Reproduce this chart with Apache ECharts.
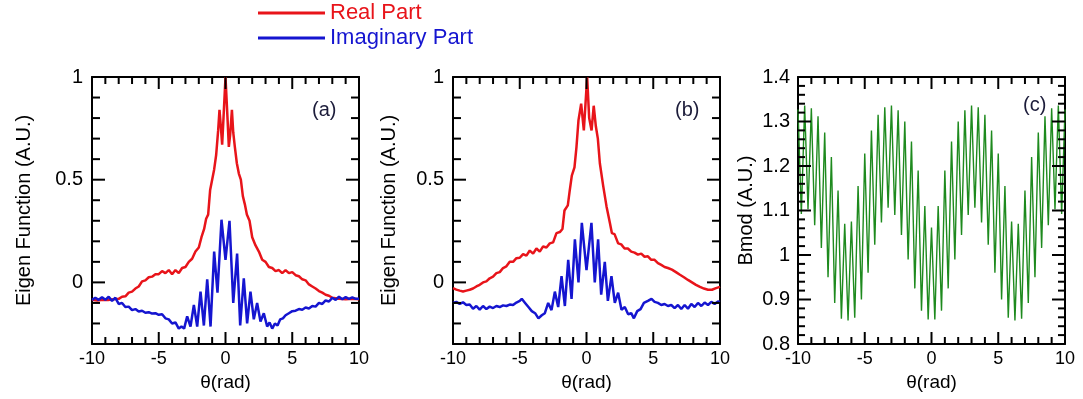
<!DOCTYPE html>
<html>
<head>
<meta charset="utf-8">
<script src="https://cdn.jsdelivr.net/npm/echarts@6.0.0/dist/echarts.min.js"></script>
<style>
html,body{margin:0;padding:0;background:#fff;}
#chart{width:1083px;height:399px;}
</style>
</head>
<body>
<div id="chart"></div>
<script>
// ---------- Data ----------
// Panel (a)
const thetaRealA = [-10,-9.6,-9.2,-8.8,-8.4,-8,-7.75,-7.5,-7.25,-7,-6.75,-6.5,-6.25,-6,-5.75,-5.5,-5.25,-5,-4.75,-4.5,-4.25,-4,-3.75,-3.5,-3.25,-3,-2.75,-2.5,-2.25,-2,-1.8,-1.6,-1.45,-1.3,-1.15,-1,-0.85,-0.7,-0.55,-0.45,-0.35,-0.25,-0.15,0,0.15,0.25,0.35,0.48,0.58,0.7,0.85,1,1.15,1.3,1.45,1.6,1.8,2,2.25,2.5,2.75,3,3.25,3.5,3.75,4,4.25,4.5,4.75,5,5.25,5.5,5.75,6,6.25,6.5,6.75,7,7.25,7.5,7.75,8,8.5,9,9.5,10];
const realA = [-0.085,-0.088,-0.085,-0.086,-0.082,-0.08,-0.07,-0.068,-0.05,-0.045,-0.03,-0.02,0.005,0.01,0.025,0.028,0.04,0.04,0.055,0.045,0.06,0.04,0.06,0.045,0.07,0.075,0.1,0.115,0.15,0.17,0.22,0.26,0.31,0.33,0.45,0.5,0.55,0.62,0.74,0.84,0.76,0.67,0.8,1.0,0.8,0.66,0.72,0.84,0.73,0.66,0.58,0.53,0.5,0.42,0.38,0.33,0.3,0.22,0.18,0.15,0.11,0.1,0.075,0.07,0.055,0.06,0.045,0.06,0.045,0.05,0.035,0.03,0.015,0.01,-0.01,-0.02,-0.03,-0.042,-0.05,-0.06,-0.065,-0.075,-0.08,-0.082,-0.08,-0.082];
const thetaImagA = [-10,-9.75,-9.5,-9.25,-9,-8.75,-8.5,-8.25,-8,-7.75,-7.5,-7.25,-7,-6.75,-6.5,-6.25,-6,-5.75,-5.5,-5.25,-5,-4.75,-4.5,-4.25,-4,-3.75,-3.5,-3.3,-3.1,-2.87,-2.62,-2.37,-2.12,-1.87,-1.62,-1.37,-1.12,-0.85,-0.6,-0.3,0,0.3,0.58,0.87,1.1,1.37,1.62,1.87,2.12,2.37,2.62,2.87,3.12,3.3,3.5,3.7,3.9,4.1,4.3,4.5,4.75,5,5.25,5.5,5.75,6,6.25,6.5,6.75,7,7.25,7.5,7.75,8,8.25,8.5,8.75,9,9.25,9.5,9.75,10];
const imagA = [-0.085,-0.075,-0.085,-0.072,-0.085,-0.07,-0.09,-0.075,-0.105,-0.1,-0.12,-0.118,-0.135,-0.13,-0.142,-0.138,-0.148,-0.145,-0.152,-0.15,-0.158,-0.155,-0.175,-0.18,-0.2,-0.195,-0.225,-0.215,-0.225,-0.165,-0.215,-0.11,-0.215,-0.045,-0.21,0.015,-0.215,0.15,-0.05,0.305,0.11,0.3,-0.1,0.14,-0.21,0.02,-0.2,-0.045,-0.18,-0.1,-0.19,-0.15,-0.215,-0.195,-0.225,-0.2,-0.21,-0.18,-0.175,-0.16,-0.15,-0.14,-0.138,-0.13,-0.133,-0.122,-0.127,-0.115,-0.118,-0.1,-0.105,-0.088,-0.093,-0.075,-0.085,-0.07,-0.082,-0.072,-0.08,-0.073,-0.08,-0.08];

// Panel (b)
const thetaRealB = [-10,-9.75,-9.5,-9.25,-9,-8.75,-8.5,-8.25,-8,-7.75,-7.5,-7.25,-7,-6.75,-6.5,-6.25,-6,-5.75,-5.5,-5.25,-5,-4.75,-4.5,-4.25,-4,-3.75,-3.5,-3.25,-3,-2.75,-2.5,-2.25,-2,-1.8,-1.65,-1.4,-1.25,-1.1,-0.9,-0.75,-0.6,-0.4,-0.2,0.05,0.2,0.38,0.54,0.7,0.85,1,1.25,1.5,1.75,1.9,2.1,2.37,2.6,2.85,3.1,3.35,3.6,3.85,4.1,4.35,4.6,4.85,5.1,5.35,5.6,5.85,6.1,6.4,6.7,7,7.3,7.6,7.9,8.2,8.5,8.8,9.1,9.4,9.7,10];
const realB = [-0.028,-0.035,-0.04,-0.044,-0.04,-0.036,-0.03,-0.02,-0.012,0,0.005,0.02,0.028,0.045,0.05,0.07,0.078,0.1,0.1,0.118,0.12,0.138,0.13,0.155,0.14,0.165,0.15,0.175,0.17,0.19,0.195,0.24,0.245,0.26,0.35,0.375,0.45,0.52,0.56,0.66,0.79,0.87,0.74,1.0,0.8,0.74,0.86,0.76,0.7,0.58,0.47,0.37,0.29,0.24,0.235,0.19,0.185,0.165,0.165,0.15,0.145,0.135,0.14,0.125,0.127,0.11,0.11,0.094,0.085,0.075,0.07,0.062,0.05,0.037,0.025,0.012,0,-0.012,-0.022,-0.03,-0.036,-0.036,-0.028,-0.022];
const thetaImagB = [-10,-9.75,-9.5,-9.25,-9,-8.75,-8.5,-8.25,-8,-7.75,-7.5,-7.25,-7,-6.75,-6.5,-6.25,-6,-5.75,-5.5,-5.25,-5,-4.85,-4.6,-4.35,-4.1,-3.85,-3.6,-3.35,-3.12,-2.87,-2.62,-2.37,-2.12,-1.87,-1.62,-1.37,-1.12,-0.87,-0.6,-0.35,0,0.37,0.62,0.87,1.1,1.37,1.6,1.87,2.12,2.37,2.62,2.87,3.12,3.35,3.55,3.8,4.05,4.3,4.6,4.87,5.1,5.35,5.6,5.85,6.1,6.35,6.6,6.85,7.1,7.35,7.6,7.85,8.1,8.35,8.6,8.85,9.1,9.35,9.6,9.85,10];
const imagB = [-0.1,-0.095,-0.105,-0.097,-0.11,-0.108,-0.128,-0.115,-0.133,-0.115,-0.13,-0.118,-0.125,-0.115,-0.12,-0.112,-0.115,-0.108,-0.11,-0.098,-0.09,-0.08,-0.1,-0.12,-0.14,-0.15,-0.175,-0.16,-0.15,-0.1,-0.135,-0.045,-0.12,0.03,-0.115,0.11,-0.08,0.21,0,0.29,0.06,0.29,0,0.21,-0.06,0.1,-0.09,0.03,-0.1,-0.05,-0.133,-0.12,-0.155,-0.15,-0.175,-0.14,-0.13,-0.1,-0.09,-0.08,-0.095,-0.1,-0.11,-0.105,-0.115,-0.11,-0.125,-0.11,-0.13,-0.11,-0.128,-0.105,-0.12,-0.1,-0.115,-0.098,-0.11,-0.095,-0.105,-0.093,-0.095];

// Panel (c)
const thetaC = [-10,-9.75,-9.5,-9.25,-9,-8.75,-8.5,-8.25,-8,-7.75,-7.5,-7.25,-7,-6.75,-6.5,-6.25,-6,-5.75,-5.5,-5.25,-5,-4.75,-4.5,-4.25,-4,-3.75,-3.5,-3.25,-3,-2.75,-2.5,-2.25,-2,-1.75,-1.5,-1.25,-1,-0.75,-0.5,-0.25,0,0.25,0.5,0.75,1,1.25,1.5,1.75,2,2.25,2.5,2.75,3,3.25,3.5,3.75,4,4.25,4.5,4.75,5,5.25,5.5,5.75,6,6.25,6.5,6.75,7,7.25,7.5,7.75,8,8.25,8.5,8.75,9,9.25,9.5,9.75,10];
const bmodC = [1.327,1.092,1.336,1.103,1.33,1.067,1.312,1.016,1.275,0.95,1.22,0.892,1.145,0.857,1.07,0.853,1.075,0.859,1.155,0.9,1.228,0.96,1.28,1.023,1.315,1.073,1.332,1.106,1.336,1.09,1.325,1.045,1.3,0.99,1.255,0.925,1.19,0.875,1.11,0.855,1.062,0.855,1.11,0.875,1.19,0.925,1.255,0.99,1.3,1.045,1.325,1.09,1.336,1.106,1.332,1.073,1.315,1.023,1.28,0.96,1.228,0.9,1.155,0.859,1.075,0.853,1.07,0.857,1.145,0.892,1.22,0.95,1.275,1.016,1.312,1.067,1.33,1.103,1.336,1.092,1.327];

// Tick labels and tick positions
const xTickLabels = [-10, -5, 0, 5, 10];
const xMinorTicks = [-9, -8, -7, -6, -4, -3, -2, -1, 1, 2, 3, 4, 6, 7, 8, 9];
const eigenTickLabels = [0, 0.5, 1];
const eigenMinorTicks = [-0.2, -0.1, 0.1, 0.2, 0.3, 0.4, 0.6, 0.7, 0.8, 0.9];
const bmodTickLabels = [0.8, 0.9, 1, 1.1, 1.2, 1.3, 1.4];
const bmodMinorTicks = [0.82,0.84,0.86,0.88,0.92,0.94,0.96,0.98,1.02,1.04,1.06,1.08,1.12,1.14,1.16,1.18,1.22,1.24,1.26,1.28,1.32,1.34,1.36,1.38];

// ---------- Styling ----------
const RED = '#e8141a';
const BLUE = '#1515d0';
const GREEN = '#1e8a1e';
const FONT = 'Liberation Sans';
const NARROW = 'Liberation Sans Narrow, Liberation Sans';
const TICK_COLOR = '#000';

function zip(xs, ys) { return xs.map((x, i) => [x, ys[i]]); }

const grids = [
  {left: 92, top: 77, width: 267, height: 267},
  {left: 453, top: 77, width: 267, height: 267},
  {left: 798, top: 77, width: 267, height: 267}
];
const X_RANGE = [-10, 10];
const Y_RANGES = [[-0.3, 1], [-0.3, 1], [0.8, 1.4]];

function axisLineDef() {
  return {show: true, onZero: false, lineStyle: {color: '#000', width: 2}};
}

const xAxes = [];
const yAxes = [];
grids.forEach((g, i) => {
  ['bottom', 'top'].forEach(pos => {
    const ax = {
      gridIndex: i, type: 'value', min: X_RANGE[0], max: X_RANGE[1], interval: 5, position: pos,
      axisLine: axisLineDef(), axisTick: {show: false},
      splitLine: {show: false}
    };
    if (pos === 'bottom') {
      ax.axisLabel = {show: true, fontSize: 18, color: '#000', fontFamily: NARROW, margin: 6,
        customValues: xTickLabels};
      ax.name = 'θ(rad)';
      ax.nameLocation = 'middle';
      ax.nameGap = i === 2 ? 23 : 28;
      ax.nameTextStyle = {fontSize: 19, color: '#000', fontFamily: NARROW};
    } else {
      ax.axisLabel = {show: false};
    }
    xAxes.push(ax);
  });
  const isC = i === 2;
  ['left', 'right'].forEach(pos => {
    const ax = {
      gridIndex: i, type: 'value', position: pos,
      min: Y_RANGES[i][0], max: Y_RANGES[i][1], interval: 0.1,
      axisLine: axisLineDef(), axisTick: {show: false},
      splitLine: {show: false}
    };
    if (pos === 'left') {
      ax.axisLabel = {show: true, fontSize: 20, color: '#000', fontFamily: FONT, margin: isC ? 8 : 9,
        customValues: isC ? bmodTickLabels : eigenTickLabels};
      ax.name = isC ? 'Bmod (A.U.)' : 'Eigen Function (A.U.)';
      ax.nameLocation = 'middle';
      ax.nameGap = isC ? 42 : (i === 0 ? 58 : 54);
      ax.nameTextStyle = {fontSize: 20, color: '#000', fontFamily: FONT};
    } else {
      ax.axisLabel = {show: false};
    }
    yAxes.push(ax);
  });
});
// axis indices per panel: x = 2*i, y = 2*i

// Inward tick marks on all four sides, placed through each panel's own axes.
// Each item: {value, side (0 bottom, 1 top, 2 left, 3 right), len (px)}
function tickItems(yMajor, yMinor, yMinorLen) {
  const out = [];
  xTickLabels.forEach(v => { out.push({v: v, side: 0, len: 12}); out.push({v: v, side: 1, len: 12}); });
  xMinorTicks.forEach(v => { out.push({v: v, side: 0, len: 7}); out.push({v: v, side: 1, len: 7}); });
  yMajor.forEach(v => { out.push({v: v, side: 2, len: 13}); out.push({v: v, side: 3, len: 13}); });
  yMinor.forEach(v => { out.push({v: v, side: 2, len: yMinorLen}); out.push({v: v, side: 3, len: yMinorLen}); });
  return out;
}
function tickSeries(i, items) {
  const yr = Y_RANGES[i];
  // every tick is anchored on a point inside the panel so no data filtering can drop it
  const midY = (yr[0] + yr[1]) / 2;
  return {
    type: 'custom', coordinateSystem: 'cartesian2d', xAxisIndex: 2 * i, yAxisIndex: 2 * i,
    silent: true, z: 5, clip: false,
    data: items.map(t => [0, midY]),
    renderItem: function (params, api) {
      const t = items[params.dataIndex];
      let p, x2, y2;
      if (t.side === 0) { p = api.coord([t.v, yr[0]]); x2 = p[0]; y2 = p[1] - t.len; }
      else if (t.side === 1) { p = api.coord([t.v, yr[1]]); x2 = p[0]; y2 = p[1] + t.len; }
      else if (t.side === 2) { p = api.coord([X_RANGE[0], t.v]); x2 = p[0] + t.len; y2 = p[1]; }
      else { p = api.coord([X_RANGE[1], t.v]); x2 = p[0] - t.len; y2 = p[1]; }
      return {type: 'line', shape: {x1: p[0], y1: p[1], x2: x2, y2: y2},
        style: {stroke: TICK_COLOR, lineWidth: 2, fill: null}};
    }
  };
}

const series = [
  {name: 'Real Part', type: 'line', xAxisIndex: 0, yAxisIndex: 0, data: zip(thetaRealA, realA),
    showSymbol: false, z: 2, lineStyle: {color: RED, width: 2.5}, itemStyle: {color: RED}},
  {name: 'Imaginary Part', type: 'line', xAxisIndex: 0, yAxisIndex: 0, data: zip(thetaImagA, imagA),
    showSymbol: false, z: 2, lineStyle: {color: BLUE, width: 2.5}, itemStyle: {color: BLUE}},
  {name: 'Real Part', type: 'line', xAxisIndex: 2, yAxisIndex: 2, data: zip(thetaRealB, realB),
    showSymbol: false, z: 2, lineStyle: {color: RED, width: 2.5}, itemStyle: {color: RED}},
  {name: 'Imaginary Part', type: 'line', xAxisIndex: 2, yAxisIndex: 2, data: zip(thetaImagB, imagB),
    showSymbol: false, z: 2, lineStyle: {color: BLUE, width: 2.5}, itemStyle: {color: BLUE}},
  {name: 'Bmod', type: 'line', xAxisIndex: 4, yAxisIndex: 4, data: zip(thetaC, bmodC),
    showSymbol: false, z: 2, lineStyle: {color: GREEN, width: 1.4}, itemStyle: {color: GREEN}},
  tickSeries(0, tickItems(eigenTickLabels, eigenMinorTicks, 8)),
  tickSeries(1, tickItems(eigenTickLabels, eigenMinorTicks, 8)),
  tickSeries(2, tickItems(bmodTickLabels, bmodMinorTicks, 7))
];

const legendBase = {
  orient: 'vertical', left: 258, padding: 0, icon: 'rect', itemWidth: 67, itemHeight: 3,
  selectedMode: false
};

const option = {
  animation: false,
  grid: grids,
  xAxis: xAxes,
  yAxis: yAxes,
  legend: [
    Object.assign({}, legendBase, {top: 1, data: ['Real Part'],
      textStyle: {color: RED, fontSize: 22, fontFamily: FONT, lineHeight: 24}}),
    Object.assign({}, legendBase, {top: 26, data: ['Imaginary Part'],
      textStyle: {color: BLUE, fontSize: 22, fontFamily: FONT, lineHeight: 24}})
  ],
  graphic: [
    {type: 'text', left: 312, top: 100, style: {text: '(a)', fontSize: 20, fill: '#1c1c3a', fontFamily: FONT}},
    {type: 'text', left: 675, top: 100, style: {text: '(b)', fontSize: 20, fill: '#1c1c3a', fontFamily: FONT}},
    {type: 'text', left: 1023, top: 95, style: {text: '(c)', fontSize: 20, fill: '#1c1c3a', fontFamily: FONT}}
  ],
  series: series
};

const chart = echarts.init(document.getElementById('chart'));
chart.setOption(option);
</script>
</body>
</html>
